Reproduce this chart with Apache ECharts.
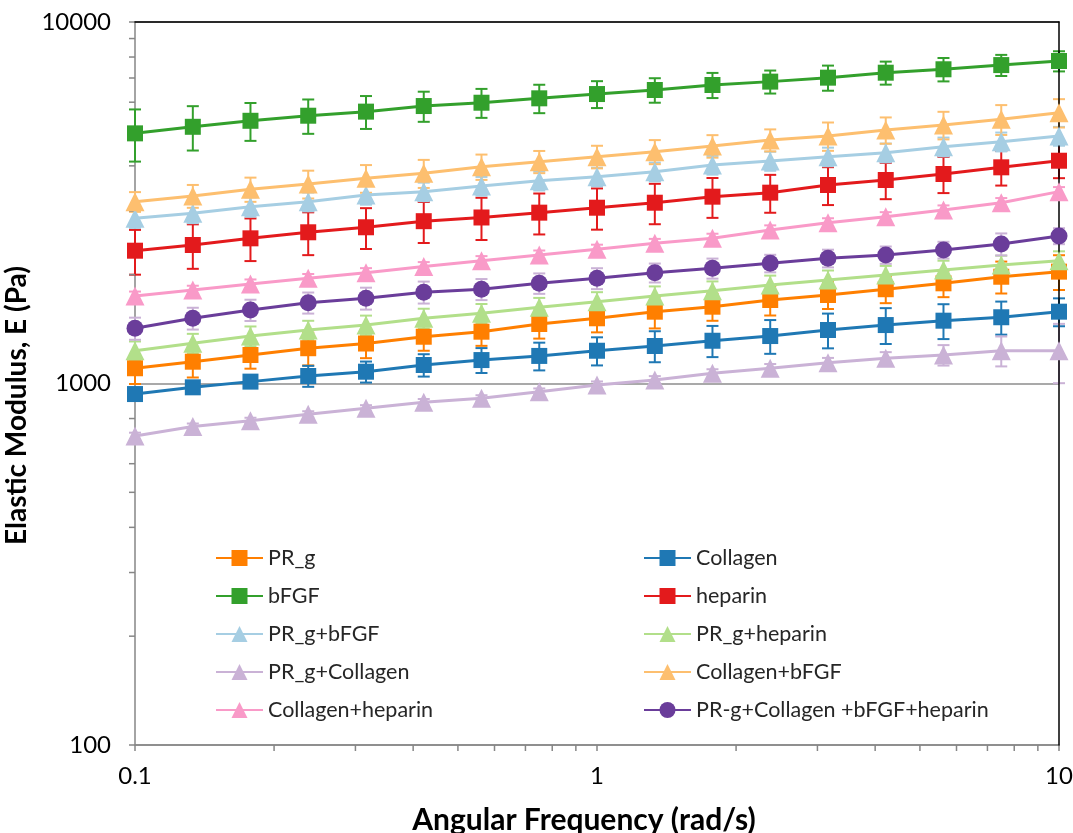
<!DOCTYPE html>
<html>
<head>
<meta charset="utf-8">
<script src="https://cdn.jsdelivr.net/npm/echarts@6/dist/echarts.min.js"></script>
<style>html,body{margin:0;padding:0;background:#fff}#chart{width:1073px;height:833px}</style>
</head>
<body>
<div id="chart"></div>
<script>
// ---- data ----
const freq = [0.1, 0.1334, 0.1778, 0.2371, 0.3162, 0.4217, 0.5623, 0.7499, 1, 1.334, 1.778, 2.371, 3.162, 4.217, 5.623, 7.499, 10];

const seriesNames = ['PR_g', 'Collagen', 'bFGF', 'heparin', 'PR_g+bFGF', 'PR_g+heparin', 'PR_g+Collagen', 'Collagen+bFGF', 'Collagen+heparin', 'PR-g+Collagen +bFGF+heparin'];

const prg      = [1102,1149,1199,1252,1290,1347,1391,1461,1515,1580,1631,1702,1757,1823,1893,1974,2039];
const collagen = [935,976,1012,1049,1078,1125,1161,1192,1232,1270,1313,1353,1406,1451,1492,1525,1580];
const bfgf     = [4920,5130,5330,5505,5650,5855,5980,6150,6320,6485,6695,6840,7015,7240,7400,7600,7800];
const heparin  = [2330,2416,2521,2620,2705,2812,2879,2969,3064,3163,3287,3372,3541,3655,3798,3963,4133];
const prgBfgf  = [2864,2957,3084,3184,3323,3394,3518,3639,3733,3854,4022,4126,4241,4350,4519,4665,4837];
const prgHep   = [1232,1292,1353,1406,1451,1515,1564,1625,1684,1746,1806,1873,1934,1995,2061,2127,2186];
const prgCol   = [716,760,789,822,854,888,910,949,991,1023,1067,1102,1142,1174,1199,1232,1232];
const colBfgf  = [3184,3302,3446,3564,3695,3815,3978,4108,4241,4378,4539,4716,4837,5025,5189,5380,5612];
const colHep   = [1746,1814,1885,1954,2025,2107,2186,2268,2351,2442,2521,2658,2785,2893,3019,3163,3394];
const all4     = [1421,1515,1597,1673,1721,1789,1823,1893,1954,2025,2083,2150,2220,2268,2341,2431,2559];

const prgErr      = [105,110,100,130,115,115,120,130,130,160,140,160,150,155,160,200,225];
const collagenErr = [25,30,35,70,72,80,92,105,110,125,130,145,155,165,165,160,140];
const bfgfErr     = [810,720,640,600,590,560,550,555,540,505,535,500,560,530,550,510,500];
const heparinErr  = [330,340,340,355,350,365,385,385,400,405,415,405,425,420,435,435,435];
const prgBfgfErr  = [170,180,190,190,200,200,210,220,220,230,240,250,250,260,270,280,290];
const prgHepErr   = [75,80,85,85,90,95,95,100,105,110,110,115,120,120,125,130,135];
const prgColErr   = [15,15,15,16,17,18,18,20,22,25,28,30,35,47,78,117,230];
const colBfgfErr  = [200,240,265,315,325,340,320,290,305,335,325,330,435,420,455,510,505];
const colHepErr   = [50,50,55,55,60,60,65,65,70,70,75,80,80,85,90,95,100];
const all4Err     = [100,105,108,112,120,125,122,123,130,122,133,120,125,125,125,170,130];

const xMinorTicks = [0.2,0.3,0.4,0.5,0.6,0.7,0.8,0.9,2,3,4,5,6,7,8,9];
const yMinorTicks = [200,300,400,500,600,700,800,900,2000,3000,4000,5000,6000,7000,8000,9000];

// ---- styling ----
const colors  = ['#ff7f00','#1f78b4','#33a02c','#e31a1c','#a6cee3','#b2df8a','#cab2d6','#fdbf6f','#f99ac8','#6a3d9a'];
const symbols = ['rect','rect','rect','rect','triangle','triangle','triangle','triangle','triangle','circle'];
const values  = [prg, collagen, bfgf, heparin, prgBfgf, prgHep, prgCol, colBfgf, colHep, all4];
const errors  = [prgErr, collagenErr, bfgfErr, heparinErr, prgBfgfErr, prgHepErr, prgColErr, colBfgfErr, colHepErr, all4Err];
const errColors = ['#ff7f00','#1f78b4','#33a02c','#e31a1c','#a6cee3','#b2df8a','#cab2d6','#fdbf6f','#f99ac8','#cab2d6'];

const FONT = 'Lato';
const chart = echarts.init(document.getElementById('chart'), null, {renderer: 'canvas'});

const series = [];
// error bars
values.forEach((vals, i) => {
  series.push({
    type: 'custom',
    z: 1,
    clip: false,
    silent: true,
    data: vals.map((v, k) => [freq[k], v, errors[i][k]]),
    encode: {x: 0, y: 1},
    renderItem: function (params, api) {
      const x = api.value(0), y = api.value(1), e = api.value(2);
      const hi = api.coord([x, y + e]);
      const lo = api.coord([x, y - e]);
      const hw = 6;
      const st = {stroke: errColors[i], lineWidth: 2};
      return {type: 'group', children: [
        {type: 'line', shape: {x1: hi[0], y1: hi[1], x2: lo[0], y2: lo[1]}, style: st},
        {type: 'line', shape: {x1: hi[0]-hw, y1: hi[1], x2: hi[0]+hw, y2: hi[1]}, style: st},
        {type: 'line', shape: {x1: lo[0]-hw, y1: lo[1], x2: lo[0]+hw, y2: lo[1]}, style: st}
      ]};
    }
  });
});
// lines
values.forEach((vals, i) => {
  series.push({
    name: seriesNames[i],
    type: 'line',
    z: 2,
    clip: false,
    data: vals.map((v, k) => [freq[k], v]),
    symbol: symbols[i],
    symbolSize: symbols[i] === 'triangle' ? 19 : (symbols[i] === 'circle' ? 17 : 16),
    showSymbol: true,
    lineStyle: {color: colors[i], width: 3},
    itemStyle: {color: colors[i]},
    emphasis: {disabled: true}
  });
});
// minor ticks on x (bottom) and y (left)
series.push({
  type: 'custom', z: 1, clip: false, silent: true,
  data: xMinorTicks.map(v => [v, 100]),
  encode: {x: 0, y: 1},
  renderItem: function (params, api) {
    const p = api.coord([api.value(0), api.value(1)]);
    return {type: 'line', shape: {x1: p[0], y1: p[1], x2: p[0], y2: p[1] + 6}, style: {stroke: '#868686', lineWidth: 1.5}};
  }
});
series.push({
  type: 'custom', z: 1, clip: false, silent: true,
  data: yMinorTicks.map(v => [0.1, v]),
  encode: {x: 0, y: 1},
  renderItem: function (params, api) {
    const p = api.coord([api.value(0), api.value(1)]);
    return {type: 'line', shape: {x1: p[0] - 6, y1: p[1], x2: p[0], y2: p[1]}, style: {stroke: '#868686', lineWidth: 1.5}};
  }
});

const legendCommon = {
  orient: 'vertical',
  padding: 0,
  itemWidth: 47,
  itemHeight: 20,
  itemGap: 16,
  textStyle: {fontFamily: FONT, fontSize: 21.5, color: '#262626'},
  selectedMode: false
};

const fmt = v => String(parseFloat(Number(v).toPrecision(6)));

chart.setOption({
  animation: false,
  backgroundColor: '#fff',
  grid: {left: 135, right: 14, top: 22, bottom: 88, containLabel: false, outerBoundsMode: 'none'},
  legend: [
    Object.assign({left: 215, top: 547, data: [seriesNames[0], seriesNames[2], seriesNames[4], seriesNames[6], seriesNames[8]]}, legendCommon),
    Object.assign({left: 643, top: 547, data: [seriesNames[1], seriesNames[3], seriesNames[5], seriesNames[7], seriesNames[9]]}, legendCommon)
  ],
  xAxis: [{
    type: 'log', logBase: 10, min: 0.1, max: 10,
    name: 'Angular Frequency (rad/s)', nameLocation: 'middle', nameGap: 60,
    nameTextStyle: {fontFamily: FONT, fontSize: 30, fontWeight: 'bold', color: '#000', padding: [0, 26, 0, 0]},
    axisLine: {lineStyle: {color: '#868686', width: 1.5}},
    axisTick: {show: true, inside: false, length: 6, lineStyle: {color: '#868686', width: 1.5}},
    axisLabel: {fontFamily: FONT, fontSize: 24, color: '#000', margin: 19, formatter: fmt},
    splitLine: {show: false},
    minorTick: {show: false}
  }, {
    type: 'log', logBase: 10, min: 0.1, max: 10, position: 'top', z: 1,
    axisLine: {show: true, lineStyle: {color: '#000', width: 1.5}},
    axisTick: {show: false}, axisLabel: {show: false}, splitLine: {show: false}
  }],
  yAxis: [{
    type: 'log', logBase: 10, min: 100, max: 10000,
    name: 'Elastic Modulus, E (Pa)', nameLocation: 'middle', nameGap: 85, nameRotate: 90,
    nameTextStyle: {fontFamily: FONT, fontSize: 28, fontWeight: 'bold', color: '#000', padding: [0, 44, 0, 0]},
    axisLine: {show: true, lineStyle: {color: '#868686', width: 1.5}},
    axisTick: {show: true, inside: false, length: 6, lineStyle: {color: '#868686', width: 1.5}},
    axisLabel: {fontFamily: FONT, fontSize: 24, color: '#000', margin: 24, formatter: fmt},
    splitLine: {show: true, lineStyle: {color: '#8c8c8c', width: 1.5}},
    minorTick: {show: false}
  }, {
    type: 'log', logBase: 10, min: 100, max: 10000, position: 'right', z: 1,
    axisLine: {show: true, lineStyle: {color: '#000', width: 1.5}},
    axisTick: {show: false}, axisLabel: {show: false}, splitLine: {show: false}
  }],
  series: series
});
</script>
</body>
</html>
